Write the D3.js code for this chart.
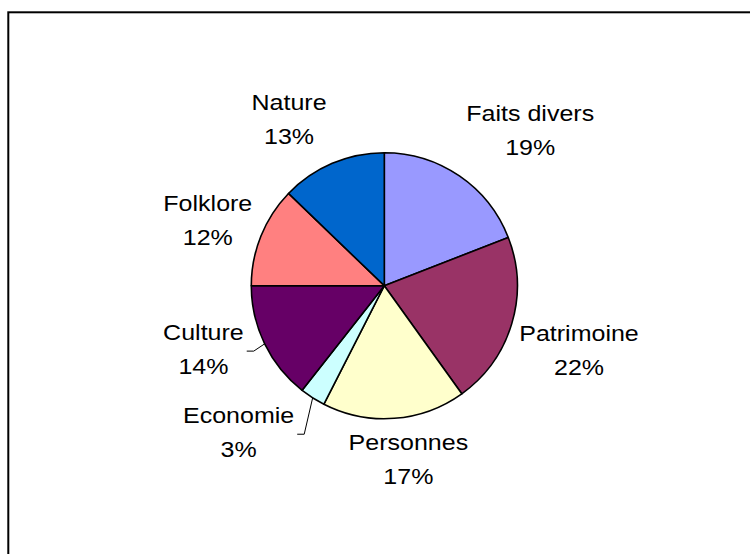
<!DOCTYPE html>
<html>
<head>
<meta charset="utf-8">
<script src="https://cdn.jsdelivr.net/npm/d3@7"></script>
<style>
    html, body { margin: 0; padding: 0; background: #fff; }
    .chart { width: 750px; height: 554px; }
    text { font-family: "Liberation Sans", Arial, sans-serif; fill: #000; }
</style>
</head>
<body>
<div class="chart"></div>
<script>
/* data */
const categories = ['Faits divers', 'Patrimoine', 'Personnes', 'Economie', 'Culture', 'Folklore', 'Nature'];
const shares = [19.1, 21.0, 17.4, 3.1, 14.4, 12.2, 12.8];
const percentLabels = ['19%', '22%', '17%', '3%', '14%', '12%', '13%'];
const sliceColors = ['#9999ff', '#993366', '#ffffcc', '#ccffff', '#660066', '#ff8080', '#0066cc'];

(function () {
    'use strict';

    /* general layout */
    const width = 750;
    const height = 554;
    const center = { 'x': 384.3, 'y': 285.7 };
    const radius = 133;
    const labelRadius = 200;
    const lineGap = 34;
    const stretch = 1.137;
    /* Excel shifted some labels by hand */
    const labelNudge = [[33, 9], [3, 7], [9, -26], [-38, -22], [-1, -24], [9, 9], [-17, 17]];
    const withLeader = ['Economie', 'Culture'];

    const svg = d3.select('.chart').append('svg')
        .attr('width', width)
        .attr('height', height);

    /* chart frame, open on the right and bottom */
    svg.append('rect')
        .attr('x', 8.3).attr('y', 12.3)
        .attr('width', width + 50).attr('height', height + 50)
        .attr('fill', 'none')
        .attr('stroke', '#000')
        .attr('stroke-width', 2);

    const plot = svg.append('g')
        .attr('transform', 'translate(' + center.x + ', ' + center.y + ')');

    const data = categories.map(function (c, i) {
        return { 'name': c, 'value': shares[i], 'label': percentLabels[i], 'color': sliceColors[i], 'nudge': labelNudge[i] };
    });

    const pie = d3.pie().sort(null).value(function (d) {
        return d.value;
    });
    const arcs = pie(data);
    const arc = d3.arc().innerRadius(0).outerRadius(radius);
    const edgeArc = d3.arc().innerRadius(radius).outerRadius(radius);
    const labelArc = d3.arc().innerRadius(labelRadius).outerRadius(labelRadius);

    /* slices */
    plot.selectAll('.slice').data(arcs)
        .enter().append('path')
        .attr('class', 'slice')
        .attr('d', arc)
        .attr('fill', function (d) {
            return d.data.color;
        })
        .attr('stroke', '#000')
        .attr('stroke-width', 1.6)
        .attr('stroke-linejoin', 'round');

    const leaders = plot.append('g').attr('class', 'leaders');

    /* labels */
    const labels = plot.selectAll('.label').data(arcs)
        .enter().append('g')
        .attr('class', 'label')
        .attr('transform', function (d) {
            const c = labelArc.centroid(d);
            d.lx = c[0] + d.data.nudge[0];
            d.ly = c[1] + d.data.nudge[1];
            return 'translate(' + d.lx + ', ' + (d.ly - 9) + ')';
        });

    labels.append('text')
        .text(function (d) {
            return d.data.name;
        })
        .attr('transform', 'scale(' + stretch + ', 1)')
        .attr('text-anchor', 'middle')
        .style('font-size', '22px');

    labels.append('text')
        .text(function (d) {
            return d.data.label;
        })
        .attr('y', lineGap)
        .attr('transform', 'scale(' + stretch + ', 1)')
        .attr('text-anchor', 'middle')
        .style('font-size', '22px');

    /* leader lines for the moved labels */
    labels.each(function (d) {
        if (withLeader.indexOf(d.data.name) < 0) {
            return;
        }
        let w = 0;
        d3.select(this).selectAll('text').each(function () {
            w = Math.max(w, this.getComputedTextLength() * stretch);
        });
        const start = edgeArc.centroid(d);
        const endX = d.lx + w / 2 + 3;
        const endY = d.ly + 2;
        leaders.append('path')
            .attr('d', d3.line()([start, [endX + 7, endY], [endX, endY]]))
            .attr('fill', 'none')
            .attr('stroke', '#000')
            .attr('stroke-width', 1);
    });
}());
</script>
</body>
</html>
